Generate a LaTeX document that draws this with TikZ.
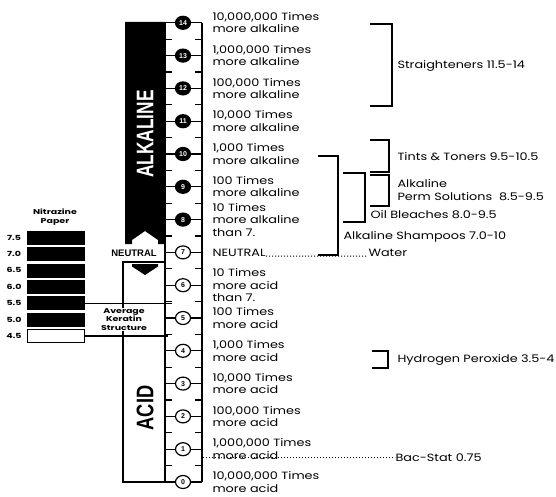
\documentclass[tikz,border=0pt]{standalone}
\usepackage{fontspec}
\setmainfont{Poppins}
\newfontfamily\geo[FakeStretch=1.22]{Poppins}
\newfontfamily\geos[FakeStretch=1.35]{Poppins}
\newfontfamily\arl{Liberation Sans}
\usetikzlibrary{shapes.geometric}
\begin{document}
\begin{tikzpicture}[x=1pt,y=-1pt,line width=1.1pt,
  lab/.style={font=\geo\fontsize{10.5}{12.5}\selectfont, align=left, anchor=west, inner sep=0pt},
  small/.style={font=\geos\bfseries\fontsize{7}{8.5}\selectfont, align=center, inner sep=0.5pt},
  phc/.style={ellipse, draw, line width=1.2pt, minimum width=15pt, minimum height=13pt, inner sep=0pt, font=\arl\bfseries\fontsize{7}{7}\selectfont},
  alkc/.style={phc, fill=black, text=white},
  acdc/.style={phc, fill=white},
  brk/.style={line width=1.5pt},
  dots/.style={dotted, line width=1pt},
  swatch/.style={draw=black, line width=0.8pt, minimum width=57pt, minimum height=13pt, inner sep=0pt},
  big/.style={font=\arl\bfseries\fontsize{24}{24}\selectfont, rotate=90, inner sep=0pt},
]
\useasboundingbox (0,0) rectangle (556,497);
\fill[white] (0,0) rectangle (556,497);

% alkaline bar
\fill[black] (125,22) -- (165,22) -- (165,244) -- (158,244) -- (158,240) -- (145,231) -- (132,240) -- (132,244) -- (125,244) -- cycle;
\node[big, text=white] (alkt) at (145,134) {\scalebox{0.72}[1]{ALKALINE}};

% acid box
\draw (123,262) rectangle (165,482);
\fill (132,264) -- (158,264) -- (158,266.5) -- (145,275) -- (132,266.5) -- cycle;
\node[big] (acidt) at (145,408) {\scalebox{0.76}[1]{ACID}};
\node[font=\arl\bfseries\fontsize{9.5}{10}\selectfont, inner sep=0pt] (neut) at (134,253) {NEUTRAL};

% strip
\draw (165,22) -- (165,482);
\draw (202,22.8) -- (202,482);
\foreach \k in {0,...,13} {
  \pgfmathsetmacro\yy{482-32.8*(\k+0.5)}
  \draw (165,\yy) -- (172,\yy) (195,\yy) -- (202,\yy);
}
\foreach \k in {0,...,14} {
  \pgfmathsetmacro\yy{482-32.8*\k}
  \ifnum\k>7 \node[alkc] (c\k) at (183,\yy) {\k};
  \else \node[acdc] (c\k) at (183,\yy) {\k}; \fi
  \draw (165,\yy) -- (c\k.west) (c\k.east) -- (202,\yy);
}

% scale labels
\node[lab] (t14) at (212,22.8) {10,000,000 Times\\more alkaline};
\node[lab] (t13) at (212,55.6) {1,000,000 Times\\more alkaline};
\node[lab] (t12) at (212,88.4) {100,000 Times\\more alkaline};
\node[lab] (t11) at (212,121.2) {10,000 Times\\more alkaline};
\node[lab] (t10) at (212,154) {1,000 Times\\more alkaline};
\node[lab] (t9) at (212,186.8) {100 Times\\more alkaline};
\node[lab] (t8) at (212,219.6) {10 Times\\more alkaline\\than 7.};
\node[lab] (t7) at (212,252.4) {NEUTRAL};
\node[lab] (t6) at (212,285.2) {10 Times\\more acid\\than 7.};
\node[lab] (t5) at (212,318) {100 Times\\more acid};
\node[lab] (t4) at (212,350.8) {1,000 Times\\more acid};
\node[lab] (t3) at (212,383.6) {10,000 Times\\more acid};
\node[lab] (t2) at (212,416.4) {100,000 Times\\more acid};
\node[lab] (t1) at (212,449.2) {1,000,000 Times\\more acid};
\node[lab] (t0) at (212,482) {10,000,000 Times\\more acid};

% water and bac-stat
\node[lab] (water) at (368,252.4) {Water};
\draw[dots] (t7.base east) -- (water.base west);
\node[lab] (bac) at (395,457.4) {Bac-Stat 0.75};
\coordinate (bs) at (203,457.4);
\draw[dots] (bs) -- (bac.west);

% brackets
\draw[brk] (370,24) -- (392,24) -- (392,106) -- (370,106);
\node[lab] (str) at (397,66) {Straighteners 11.5-14};
\draw[brk] (370,140) -- (389,140) -- (389,172) -- (370,172);
\node[lab] (tint) at (397,157) {Tints \& Toners 9.5-10.5};
\draw[brk] (370,175) -- (389,175) -- (389,206) -- (370,206);
\node[lab] (perm) at (397,190) {Alkaline\\Perm Solutions~~8.5-9.5};
\draw[brk] (343,173) -- (365,173) -- (365,222) -- (343,222);
\node[lab] (oil) at (370,215) {Oil Bleaches 8.0-9.5};
\draw[brk] (318,156) -- (338,156) -- (338,255) -- (318,255);
\node[lab] (sham) at (343,237) {Alkaline Shampoos 7.0-10};
\draw[brk] (372,351) -- (388,351) -- (388,368) -- (372,368);
\node[lab] (hyd) at (397,360) {Hydrogen Peroxide 3.5-4};

% nitrazine paper
\node[small] (nitt) at (55,217) {Nitrazine\\Paper};
\foreach \i/\v in {0/4.5,1/5.0,2/5.5,3/6.0,4/6.5,5/7.0,6/7.5} {
  \pgfmathsetmacro\yy{336-16.4*\i}
  \ifnum\i=0 \node[swatch, fill=white] (s\i) at (55.5,\yy) {};
  \else \node[swatch, fill=black] (s\i) at (55.5,\yy) {}; \fi
  \node[small] (v\i) at (14,\yy) {\v};
}
\draw (s2.east) -- ++(88,0);
\draw (s0.east) -- ++(84,0);
\node[small, fill=white] (akt) at (124,319.5) {Average\\Keratin\\Structure};
\end{tikzpicture}
\end{document}
